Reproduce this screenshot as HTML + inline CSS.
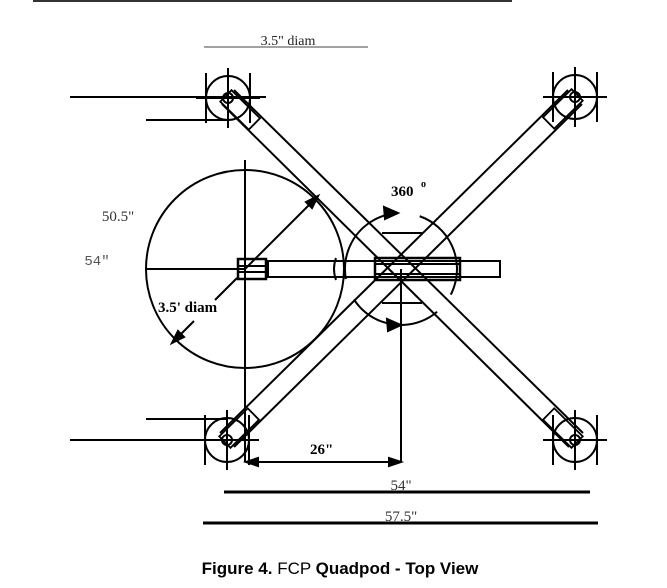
<!DOCTYPE html>
<html><head><style>
body{margin:0;background:#fff;width:667px;height:583px;overflow:hidden;}
</style></head><body>
<svg width="667" height="583" viewBox="0 0 667 583" xmlns="http://www.w3.org/2000/svg" font-family="Liberation Serif, serif">
<defs>
<g id="w" stroke="#000" fill="none" stroke-width="2"><circle cx="0" cy="0" r="22"/><circle cx="0" cy="0" r="5"/>
<line x1="-22" y1="-25" x2="-22" y2="25" /><line x1="22" y1="-25" x2="22" y2="25"/>
<line x1="-32" y1="0" x2="32" y2="0"/><line x1="0" y1="-30" x2="0" y2="30"/></g>
</defs>
<line x1="33" y1="1" x2="512" y2="1" stroke="#333" stroke-width="2"/>
<text x="288" y="45" font-size="14" text-anchor="middle" fill="#222">3.5" diam</text>
<line x1="204" y1="47" x2="368" y2="47" stroke="#444" stroke-width="1"/>
<g stroke="#000" fill="none" stroke-width="2">
<line x1="70" y1="97" x2="266" y2="97"/>
<line x1="146" y1="120" x2="228" y2="120"/>
<line x1="70" y1="440" x2="256" y2="440"/>
<line x1="146" y1="419" x2="228" y2="419"/>
<use href="#w" x="228" y="98"/><use href="#w" x="575" y="97"/>
<use href="#w" x="227" y="440"/><use href="#w" x="575" y="440"/>
<line x1="234" y1="90" x2="583" y2="433"/><line x1="222" y1="104" x2="569" y2="447"/>
<line x1="568" y1="90" x2="220" y2="433"/><line x1="582" y1="104" x2="234" y2="447"/>
<rect x="-3" y="-8" width="40" height="16" transform="translate(228,98) rotate(44.5)" stroke-width="1.8"/>
<rect x="-37" y="-8" width="40" height="16" transform="translate(575,440) rotate(44.5)" stroke-width="1.8"/>
<rect x="-3" y="-8" width="40" height="16" transform="translate(575,97) rotate(135.5)" stroke-width="1.8"/>
<rect x="-37" y="-8" width="40" height="16" transform="translate(227,440) rotate(135.5)" stroke-width="1.8"/>
<circle cx="245" cy="269" r="99"/>
<line x1="245" y1="160" x2="245" y2="462"/>
<line x1="146" y1="269" x2="245" y2="269"/>
<line x1="245" y1="269" x2="315" y2="199"/>
<polygon points="318,196 306,202 312,208" fill="#000"/>
<line x1="237" y1="278" x2="215" y2="300"/>
<line x1="194" y1="321" x2="176" y2="339"/>
<polygon points="172,343 178,331 184,337" fill="#000"/>
<rect x="268" y="261" width="232" height="16"/>
<rect x="375" y="258" width="85" height="22" stroke-width="2.5"/>
<line x1="375" y1="264" x2="460" y2="264"/><line x1="375" y1="274" x2="460" y2="274"/>
<rect x="238" y="259" width="28" height="20" stroke-width="2.5"/>
<line x1="238" y1="266" x2="266" y2="266"/><line x1="238" y1="272" x2="266" y2="272"/>
<path d="M382 233 L422 233 M382 303 L422 303"/>
<path d="M336 258 Q332 269 336 280"/>
<circle cx="401" cy="269" r="56" stroke-dasharray="95 22" transform="rotate(-70 401 269)"/>
<polygon points="398,213 384,207 385,219" fill="#000"/>
<polygon points="401,325 387,319 388,331" fill="#000"/>
<line x1="401" y1="269" x2="401" y2="462"/>
<line x1="246" y1="462" x2="401" y2="462"/>
<polygon points="246,462 258,458 258,466" fill="#000"/>
<polygon points="401,462 389,458 389,466" fill="#000"/>
<line x1="224" y1="492" x2="590" y2="492" stroke-width="3"/>
<line x1="203" y1="523" x2="598" y2="523" stroke-width="3"/>
</g>
<text x="391" y="196" font-size="15" font-weight="bold">360</text>
<text x="421" y="187" font-size="10" font-weight="bold">o</text>
<text x="158" y="312" font-size="15" font-weight="bold">3.5' diam</text>
<text x="310" y="454" font-size="15" font-weight="bold">26"</text>
<text x="118" y="221" font-size="15" fill="#333" text-anchor="middle">50.5"</text>
<text x="97" y="265" font-size="14" fill="#555" text-anchor="middle" font-family="Liberation Mono, monospace">54"</text>
<text x="401" y="490" font-size="15" fill="#333" text-anchor="middle">54"</text>
<text x="401" y="521" font-size="15" fill="#333" text-anchor="middle">57.5"</text>
<text x="340" y="574" font-size="17" text-anchor="middle" font-family="Liberation Sans, sans-serif"><tspan font-weight="bold">Figure 4.</tspan> FCP <tspan font-weight="bold">Quadpod - Top View</tspan></text>
</svg>
</body></html>
